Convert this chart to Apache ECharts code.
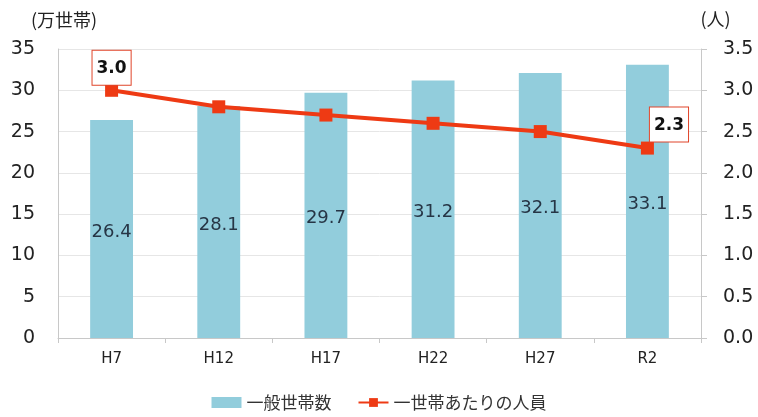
<!DOCTYPE html>
<html><head><meta charset="utf-8">
<script src="https://cdn.jsdelivr.net/npm/echarts@6/dist/echarts.min.js"></script>
<style>html,body{margin:0;padding:0;background:#fff}#c{width:758px;height:417px}</style>
</head><body><div id="c"></div>
<script>
const categories = ['H7','H12','H17','H22','H27','R2'];
const households = [26.4, 28.1, 29.7, 31.2, 32.1, 33.1];
const perHousehold = [3.0, 2.8, 2.7, 2.6, 2.5, 2.3];
const leftTicks = {min:0, max:35, interval:5};
const rightTicks = {min:0, max:3.5, interval:0.5};
const FONT = '"DejaVu Sans","Noto Sans CJK JP",sans-serif';
const CJK = '"Noto Sans CJK JP","DejaVu Sans",sans-serif';
const chart = echarts.init(document.getElementById('c'));
const lineData = perHousehold.map((v,i)=>{
  const d = {value:v};
  if (i===0) d.label = {show:true, position:'top', offset:[0,6]};
  else if (i===perHousehold.length-1) d.label = {show:true, position:'insideBottomLeft', offset:[4,-8]};
  return d;
});
chart.setOption({
  animation:false,
  textStyle:{fontFamily:FONT},
  grid:{left:58, right:57, top:49, bottom:79},
  legend:{
    bottom:1, left:'center', itemGap:26, itemWidth:30, itemHeight:11,
    textStyle:{fontSize:17, color:'#333', fontFamily:CJK},
    data:[{name:'一般世帯数', icon:'rect'}, {name:'一世帯あたりの人員'}]
  },
  xAxis:{
    type:'category', data:categories,
    axisLine:{lineStyle:{color:'#c8c8c8'}},
    axisTick:{show:true, alignWithLabel:false, length:5, lineStyle:{color:'#c8c8c8'}},
    axisLabel:{fontSize:15, color:'#222', margin:14, fontFamily:FONT}
  },
  yAxis:[{
    type:'value', min:leftTicks.min, max:leftTicks.max, interval:leftTicks.interval,
    name:'(万世帯)', nameLocation:'end', nameGap:20,
    nameTextStyle:{fontSize:18, color:'#222', align:'center', padding:[0,0,0,12], fontFamily:CJK},
    axisLine:{show:true, lineStyle:{color:'#c8c8c8'}},
    axisTick:{show:false},
    axisLabel:{fontSize:19, color:'#222', margin:23},
    splitLine:{lineStyle:{color:'#e6e6e6'}}
  },{
    type:'value', min:rightTicks.min, max:rightTicks.max, interval:rightTicks.interval,
    name:'(人)', nameLocation:'end', nameGap:21,
    nameTextStyle:{fontSize:18, color:'#222', align:'center', padding:[0,0,0,29], fontFamily:CJK},
    axisLine:{show:true, lineStyle:{color:'#c8c8c8'}},
    axisTick:{show:true, length:6, inside:false, lineStyle:{color:'#c8c8c8'}},
    axisLabel:{fontSize:19, color:'#222', margin:22, formatter:v=>v.toFixed(1)},
    splitLine:{show:false}
  }],
  series:[{
    name:'一般世帯数', type:'bar', data:households, barWidth:'40%',
    itemStyle:{color:'#92cddc'},
    label:{show:true, position:'inside', fontSize:18, color:'#263545', offset:[0,3], formatter:p=>p.value.toFixed(1)}
  },{
    name:'一世帯あたりの人員', type:'line', yAxisIndex:1, data:lineData,
    symbol:'rect', symbolSize:13,
    lineStyle:{color:'#ee3a14', width:4},
    itemStyle:{color:'#ee3a14'},
    label:{show:false, fontSize:17, fontWeight:'bold', color:'#111',
      backgroundColor:'#fff', borderColor:'#e0452a', borderWidth:1, padding:[9,4,8,4],
      formatter:p=>p.value.toFixed(1)}
  }]
});
</script></body></html>
